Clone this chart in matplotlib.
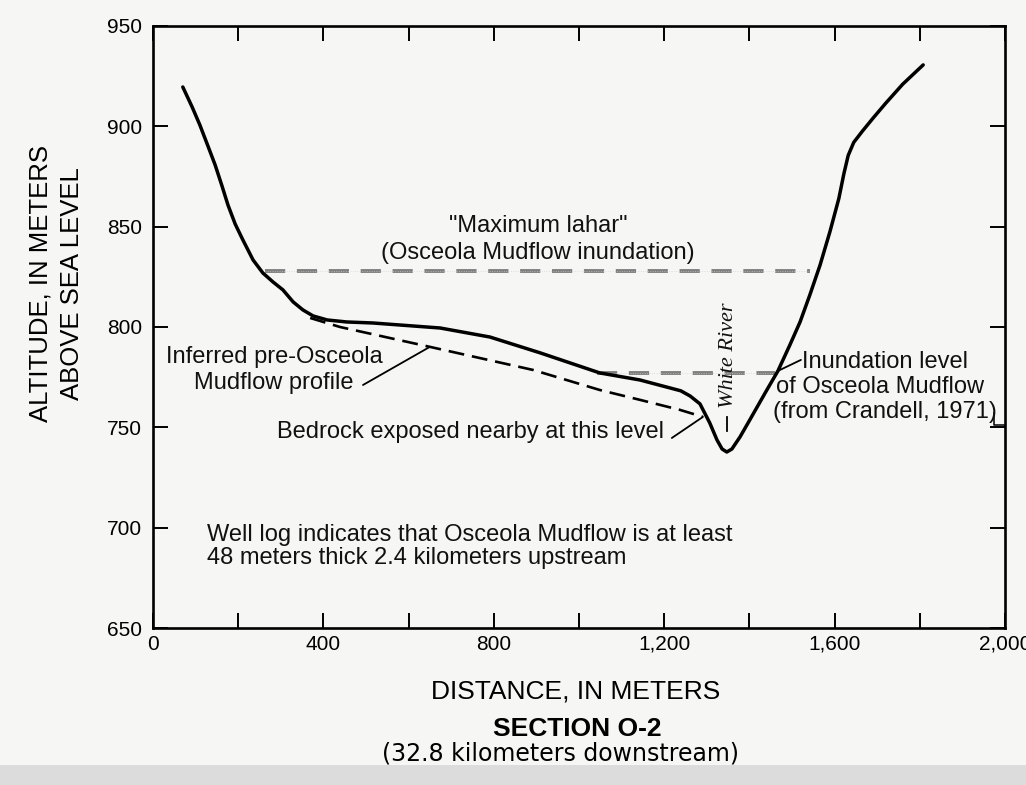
import matplotlib
matplotlib.use('Agg')
import matplotlib.pyplot as plt
from matplotlib.patches import Rectangle
from matplotlib.ticker import FuncFormatter

# Cross section O-2, ground profile across the White River valley
profile_x = [70, 92, 110, 129, 146, 162, 176, 193, 211, 235, 258, 282, 305, 329,
             352, 376, 409, 455, 516, 674, 791, 909, 1049, 1143, 1239, 1261, 1284,
             1307, 1324, 1336, 1347, 1359, 1378, 1401, 1441, 1467, 1495, 1519,
             1542, 1566, 1589, 1610, 1622, 1632, 1645, 1665, 1690, 1720, 1760, 1808]
profile_y = [919.6, 909.6, 900.7, 890.2, 880.7, 870.3, 860.8, 851.3, 843.4, 833.4,
             826.9, 822.4, 818.5, 812.5, 808.5, 805.5, 803.5, 802.5, 802.0, 799.5,
             795.0, 787.1, 777.1, 773.6, 768.2, 765.6, 761.7, 752.2, 743.7, 739.2,
             737.7, 739.2, 745.2, 753.7, 768.6, 778.1, 791.0, 802.5, 816.0, 830.9,
             847.4, 864.0, 876.5, 885.5, 892.0, 897.5, 904.0, 911.5, 921.0, 930.6]

# inferred surface before the Osceola Mudflow
pre_x = [369, 439, 650, 892, 1049, 1143, 1237, 1291]
pre_y = [804.5, 800.0, 790.1, 778.6, 768.6, 763.7, 758.7, 755.2]

# flow levels: (start, end, altitude)
max_lahar = (263, 1542, 828.0)
inundation = (1042, 1461, 777.0)

x_ticks = [0, 400, 800, 1200, 1600, 2000]
x_minor = [200, 600, 1000, 1400, 1800]
y_ticks = [650, 700, 750, 800, 850, 900, 950]

SANS = ['Liberation Sans', 'DejaVu Sans']
plt.rcParams['font.family'] = SANS
PAPER = '#f6f6f4'

fig = plt.figure(figsize=(10.26, 7.85), dpi=100)
fig.patch.set_facecolor(PAPER)
# darker strip along the bottom edge of the sheet
fig.add_artist(Rectangle((0, 0), 1, 20 / 785, transform=fig.transFigure,
                         color='#dcdcdc', lw=0, zorder=0))

ax = fig.add_axes([0.1491, 0.2, 0.8304, 0.7669])
ax.set_facecolor(PAPER)

ax.plot(profile_x, profile_y, color='black', lw=2.5, solid_capstyle='round',
        solid_joinstyle='round', zorder=4)
ax.plot(pre_x, pre_y, color='black', lw=1.9, dashes=(6, 3), zorder=4)

# hatched level lines: grey dashes with a faint light stipple through them
for x0, x1, lev in (max_lahar, inundation):
    ax.plot([x0, x1], [lev, lev], color='#808080', lw=2.8, dashes=(5.2, 3.0),
            solid_capstyle='butt', zorder=3)
    ax.plot([x0, x1], [lev, lev], color='#cfcfcf', lw=0.5, dashes=(1.2, 2.2), zorder=3)

ax.set_xlim(0, 2000)
ax.set_ylim(650, 950)
ax.set_xticks(x_ticks)
ax.set_xticks(x_minor, minor=True)
ax.set_yticks(y_ticks)
ax.xaxis.set_major_formatter(FuncFormatter(lambda v, p: f'{int(v):,}'))
ax.tick_params(which='both', direction='in', length=11, width=1.4,
               top=True, right=True, labelsize=15, colors='black')
ax.tick_params(axis='x', pad=5)
ax.tick_params(axis='y', pad=8)
for s in ax.spines.values():
    s.set_linewidth(1.9)

txt = dict(fontsize=17, color='#111111')
lead = dict(arrowstyle='-', lw=1.3, color='black', shrinkA=0, shrinkB=0)

ax.text(904, 850.4, '"Maximum lahar"', ha='center', va='center', **txt)
ax.text(904, 836.9, '(Osceola Mudflow inundation)', ha='center', va='center', **txt)

ax.text(284, 785.1, 'Inferred pre-Osceola', ha='center', va='center', **txt)
ax.text(284, 772.1, 'Mudflow profile', ha='center', va='center', **txt)
ax.annotate('', xy=(650, 790.1), xytext=(493, 771.1), arrowprops=lead)

ax.text(291, 747.7, 'Bedrock exposed nearby at this level', ha='left', va='center', **txt)
ax.annotate('', xy=(1291, 755.2), xytext=(1218, 744.7), arrowprops=lead)

ax.text(1524, 782.6, 'Inundation level', ha='left', va='center', **txt)
ax.text(1463, 770.1, 'of Osceola Mudflow', ha='left', va='center', **txt)
ax.text(1456, 757.7, '(from Crandell, 1971)', ha='left', va='center', **txt)
ax.annotate('', xy=(1467, 778.1), xytext=(1521, 783.6), arrowprops=lead)
ax.plot([1975, 1975, 2000], [757.0, 751.2, 751.2], color='black', lw=1.1)

ax.text(1350, 759.7, 'White River', rotation=90, ha='center', va='bottom',
        family='Liberation Serif', style='italic', fontsize=16, color='#111111')
ax.plot([1347, 1347], [755.0, 748.0], color='black', lw=1.3)

ax.text(127, 696.4, 'Well log indicates that Osceola Mudflow is at least',
        ha='left', va='center', **txt)
ax.text(127, 685.0, '48 meters thick 2.4 kilometers upstream',
        ha='left', va='center', **txt)

fig.text(576 / 1026, 1 - 692 / 785, 'DISTANCE, IN METERS', ha='center', va='center',
         fontsize=19)
fig.text(41 / 1026, 1 - 284 / 785, 'ALTITUDE, IN METERS', rotation=90,
         ha='center', va='center', fontsize=18.5)
fig.text(72 / 1026, 1 - 284 / 785, 'ABOVE SEA LEVEL', rotation=90,
         ha='center', va='center', fontsize=18.5)
fig.text(577 / 1026, 1 - 729 / 785, 'SECTION O-2', ha='center', va='center',
         fontsize=19, fontweight='bold')
fig.text(560 / 1026, 1 - 753 / 785, '(32.8 kilometers downstream)', ha='center',
         va='center', fontsize=17, family='DejaVu Sans')

fig.savefig('out.png', dpi=100, facecolor=fig.get_facecolor())
